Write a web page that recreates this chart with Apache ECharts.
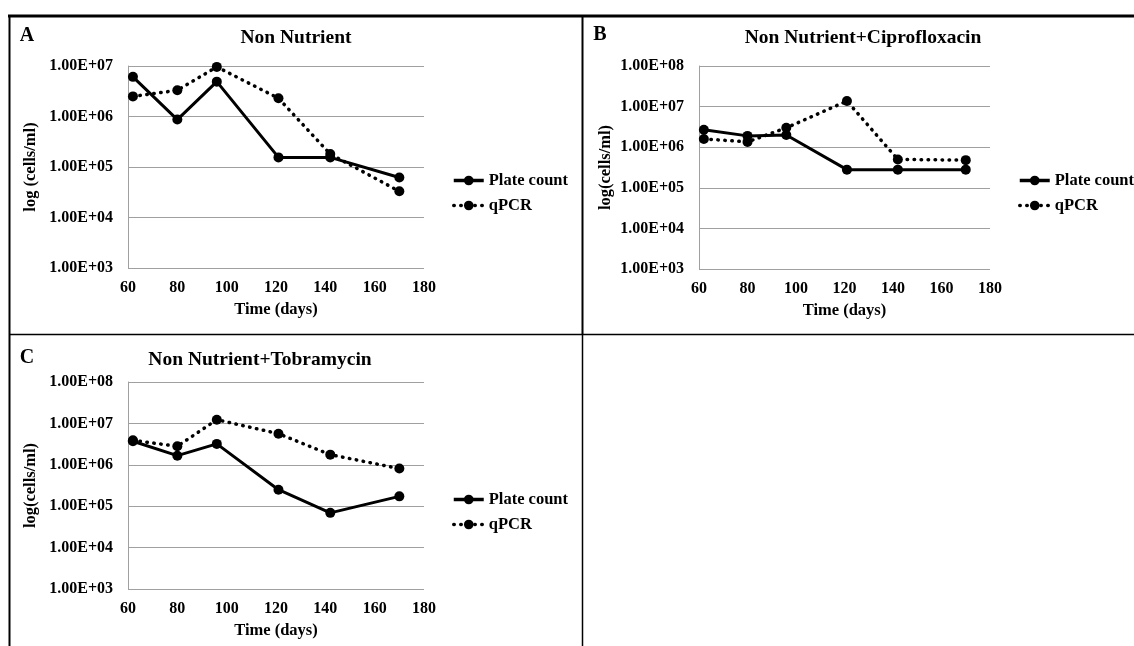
<!DOCTYPE html>
<html><head><meta charset="utf-8">
<script src="https://cdn.jsdelivr.net/npm/echarts@6/dist/echarts.min.js"></script>
<style>html,body{margin:0;padding:0;background:#fff}#c{width:1134px;height:646px}</style>
</head><body><div id="c"></div>
<script>
// ---- data ----
const days = [62, 80, 96, 121, 142, 170];
const xTicks = [60, 80, 100, 120, 140, 160, 180];
const yTickLabels = ['1.00E+03', '1.00E+04', '1.00E+05', '1.00E+06', '1.00E+07', '1.00E+08'];
const seriesNames = ['Plate count', 'qPCR'];
const panelTitles = ['Non Nutrient', 'Non Nutrient+Ciprofloxacin', 'Non Nutrient+Tobramycin'];
const panelLetters = ['A', 'B', 'C'];
const yAxisNames = ['log (cells/ml)', 'log(cells/ml)', 'log(cells/ml)'];
const xAxisName = 'Time (days)';
const yMaxes = [1e7, 1e8, 1e8];
const yMin = 1e3;

const plateA = [6.1e6, 8.7e5, 4.9e6, 1.55e5, 1.55e5, 6.2e4];
const qpcrA  = [2.5e6, 3.3e6, 9.6e6, 2.3e6, 1.8e5, 3.3e4];
const plateB = [2.7e6, 1.9e6, 2.0e6, 2.8e5, 2.8e5, 2.8e5];
const qpcrB  = [1.6e6, 1.35e6, 3.0e6, 1.37e7, 5.0e5, 4.8e5];
const plateC = [3.7e6, 1.66e6, 3.2e6, 2.5e5, 6.9e4, 1.73e5];
const qpcrC  = [3.9e6, 2.8e6, 1.23e7, 5.65e6, 1.76e6, 8.1e5];

const plateSets = [plateA, plateB, plateC];
const qpcrSets = [qpcrA, qpcrB, qpcrC];

// ---- layout ----
const FONT = "'Liberation Serif','Times New Roman',serif";
const grids = [
  {left: 128, top: 66, width: 296, height: 202},
  {left: 699, top: 66, width: 291, height: 203},
  {left: 128, top: 382, width: 296, height: 207}
];
const yNameGaps = [89, 85, 89];
const legendPos = [{left: 452, top: 172}, {left: 1018, top: 172}, {left: 452, top: 491}];
const titlePos = [[296, 38], [863, 38], [260, 360]];
const letterPos = [[27, 36], [600, 35], [27, 358]];
const GRID_COLOR = '#a0a0a0';

const chart = echarts.init(document.getElementById('c'), null, {renderer: 'canvas'});
const lblStyle = {fontSize: 16, fontWeight: 'bold', color: '#000', fontFamily: FONT};
const nameStyle = {fontSize: 16.5, fontWeight: 'bold', color: '#000', fontFamily: FONT};
const legendText = {fontSize: 16.5, fontWeight: 'bold', color: '#000', fontFamily: FONT};

const xAxes = [], yAxes = [], series = [], legends = [];
grids.forEach((g, i) => {
  xAxes.push({
    type: 'value', gridIndex: i, min: xTicks[0], max: xTicks[xTicks.length - 1],
    interval: xTicks[1] - xTicks[0],
    axisLine: {show: false}, axisTick: {show: false}, splitLine: {show: false},
    axisLabel: Object.assign({margin: 12}, lblStyle),
    name: xAxisName, nameLocation: 'middle', nameGap: 33, nameTextStyle: nameStyle
  });
  yAxes.push({
    type: 'log', logBase: 10, gridIndex: i, min: yMin, max: yMaxes[i],
    axisLine: {show: true, lineStyle: {color: GRID_COLOR, width: 1}},
    axisTick: {show: false},
    splitLine: {show: true, lineStyle: {color: GRID_COLOR, width: 1}},
    axisLabel: Object.assign({
      margin: 15,
      formatter: v => yTickLabels[Math.round(Math.log10(v)) - 3]
    }, lblStyle),
    name: yAxisNames[i], nameLocation: 'middle', nameGap: yNameGaps[i], nameRotate: 90,
    nameTextStyle: nameStyle
  });
  series.push({
    name: seriesNames[0], type: 'line', xAxisIndex: i, yAxisIndex: i,
    data: days.map((d, k) => [d, plateSets[i][k]]),
    symbol: 'circle', symbolSize: 10,
    itemStyle: {color: '#000'},
    lineStyle: {color: '#000', width: 3, type: 'solid'},
    z: 3
  });
  series.push({
    name: seriesNames[1], type: 'line', xAxisIndex: i, yAxisIndex: i,
    data: days.map((d, k) => [d, qpcrSets[i][k]]),
    symbol: 'circle', symbolSize: 10,
    itemStyle: {color: '#000'},
    lineStyle: {color: '#000', width: 3.5, type: [0.5, 6.5], cap: 'round'},
    z: 2
  });
  legends.push({
    orient: 'vertical', left: legendPos[i].left, top: legendPos[i].top,
    itemWidth: 30, itemHeight: 12, itemGap: 8, padding: 0,
    lineStyle: {width: 3.5},
    data: seriesNames, textStyle: legendText, selectedMode: false
  });
});

const graphics = [];
// panel borders
const border = (x1, y1, x2, y2, w) => ({type: 'line', shape: {x1, y1, x2, y2}, style: {stroke: '#000', lineWidth: w}, silent: true});
graphics.push(border(8, 16, 1134, 16, 3));
graphics.push(border(9.5, 15, 9.5, 646, 2));
graphics.push(border(582.5, 15, 582.5, 334, 2));
graphics.push(border(582.5, 334, 582.5, 646, 1.5));
graphics.push(border(9, 334.5, 1134, 334.5, 1.5));
panelTitles.forEach((t, i) => {
  graphics.push({type: 'text', x: titlePos[i][0], y: titlePos[i][1],
    style: {text: t, align: 'center', verticalAlign: 'middle', font: 'bold 19.5px ' + FONT, fill: '#000'}});
  graphics.push({type: 'text', x: letterPos[i][0], y: letterPos[i][1],
    style: {text: panelLetters[i], align: 'center', verticalAlign: 'middle', font: 'bold 20px ' + FONT, fill: '#000'}});
});

chart.setOption({
  animation: false,
  backgroundColor: '#fff',
  grid: grids,
  xAxis: xAxes,
  yAxis: yAxes,
  legend: legends,
  series: series,
  graphic: graphics
});
</script></body></html>
